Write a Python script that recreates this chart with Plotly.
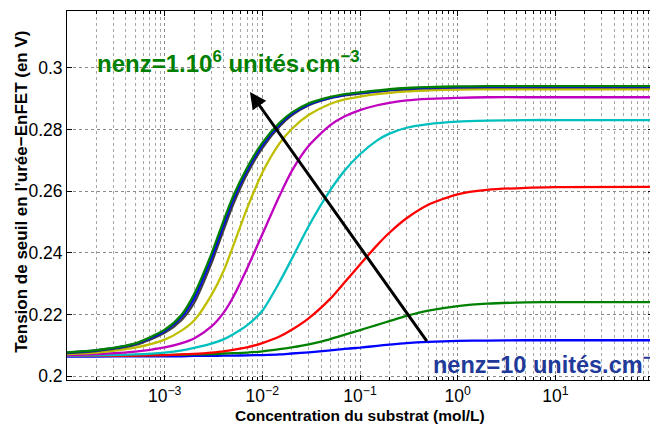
import plotly.graph_objects as go

# substrate concentration (mol/L)
conc = [1e-4, 2e-4, 5e-4, 1e-3, 1.5e-3, 2e-3, 3e-3, 4e-3, 5e-3, 7e-3, 1e-2, 1.5e-2, 2e-2,
        3e-2, 5e-2, 7e-2, 0.1, 0.15, 0.2, 0.3, 0.5, 1, 2, 5, 10, 100]

# threshold voltage (V) for increasing enzyme densities
v_b1 = [0.2063, 0.2063, 0.2064, 0.2064, 0.2064, 0.2065, 0.2065, 0.2066, 0.2066, 0.2067, 0.2068, 0.2070, 0.2073,
        0.2077, 0.2083, 0.2088, 0.2092, 0.2098, 0.2102, 0.2107, 0.2111, 0.2114, 0.2115, 0.2116, 0.2116, 0.2116]
v_g1 = [0.2066, 0.2066, 0.2067, 0.2068, 0.2069, 0.2070, 0.2071, 0.2073, 0.2074, 0.2076, 0.2080, 0.2087, 0.2093,
        0.2103, 0.2120, 0.2134, 0.2149, 0.2166, 0.2178, 0.2195, 0.2212, 0.2227, 0.2235, 0.2239, 0.2240, 0.2240]
v_r = [0.2065, 0.2065, 0.2066, 0.2068, 0.2070, 0.2072, 0.2076, 0.2080, 0.2085, 0.2093, 0.2107, 0.2128, 0.2150,
       0.2188, 0.2252, 0.2305, 0.2362, 0.2425, 0.2465, 0.2512, 0.2556, 0.2590, 0.2604, 0.2611, 0.2613, 0.2614]
v_c = [0.2066, 0.2067, 0.2070, 0.2076, 0.2083, 0.2091, 0.2105, 0.2119, 0.2135, 0.2165, 0.2212, 0.2305, 0.2380,
       0.2488, 0.2605, 0.2668, 0.2720, 0.2765, 0.2787, 0.2806, 0.2818, 0.2826, 0.2829, 0.2831, 0.2831, 0.2831]
v_m = [0.2068, 0.2071, 0.2079, 0.2093, 0.2107, 0.2122, 0.2160, 0.2205, 0.2255, 0.2350, 0.2460, 0.2585, 0.2665,
       0.2748, 0.2815, 0.2843, 0.2863, 0.2879, 0.2887, 0.2895, 0.2900, 0.2903, 0.2905, 0.2905, 0.2905, 0.2905]
v_y = [0.2071, 0.2076, 0.2092, 0.2118, 0.2148, 0.2180, 0.2262, 0.2340, 0.2420, 0.2545, 0.2660, 0.2755, 0.2802,
       0.2848, 0.2884, 0.2898, 0.2907, 0.2915, 0.2919, 0.2924, 0.2927, 0.2930, 0.2931, 0.2931, 0.2931, 0.2931]
v_k = [0.2074, 0.2081, 0.2101, 0.2140, 0.2183, 0.2237, 0.2365, 0.2473, 0.2555, 0.2657, 0.2740, 0.2810, 0.2846,
       0.2879, 0.2902, 0.2911, 0.2917, 0.2923, 0.2927, 0.2931, 0.2934, 0.2936, 0.2937, 0.2937, 0.2937, 0.2937]
v_b2 = [0.2076, 0.2083, 0.2104, 0.2146, 0.2193, 0.2252, 0.2382, 0.2490, 0.2571, 0.2669, 0.2750, 0.2817, 0.2851,
        0.2882, 0.2904, 0.2913, 0.2919, 0.2925, 0.2929, 0.2933, 0.2936, 0.2938, 0.2939, 0.2939, 0.2939, 0.2939]
v_g2 = [0.2077, 0.2084, 0.2106, 0.2150, 0.2200, 0.2265, 0.2395, 0.2503, 0.2582, 0.2677, 0.2757, 0.2822, 0.2855,
        0.2885, 0.2906, 0.2915, 0.2921, 0.2927, 0.2931, 0.2935, 0.2938, 0.2940, 0.2941, 0.2941, 0.2941, 0.2941]

series = [v_b1, v_g1, v_r, v_c, v_m, v_y, v_k, v_b2, v_g2]
colors = ["#0000FF", "#008000", "#FF0000", "#00BFBF", "#BF00BF", "#BFBF00", "#404040", "#0000FF", "#008000"]

x_tickvals = [1e-3, 1e-2, 1e-1, 1, 10]
x_ticktext = ["10<sup>−3</sup>", "10<sup>−2</sup>", "10<sup>−1</sup>", "10<sup>0</sup>", "10<sup>1</sup>"]
x_minor = [m * 10.0 ** k for k in range(-4, 2) for m in range(2, 10)]
y_tickvals = [0.2, 0.22, 0.24, 0.26, 0.28, 0.3]
y_ticktext = ["0.2", "0.22", "0.24", "0.26", "0.28", "0.3"]

fig = go.Figure()
for vals, col in zip(series, colors):
    fig.add_trace(go.Scatter(x=conc, y=vals, mode="lines",
                             line=dict(color=col, width=2.3, shape="spline", smoothing=0.7),
                             showlegend=False, hoverinfo="skip"))

# the page body has an 8px default margin: size the figure so it fills the 658x424 window
fig.update_layout(
    width=650, height=416,
    margin=dict(l=59, r=5, t=3, b=44),
    paper_bgcolor="white", plot_bgcolor="white",
    font=dict(family="Liberation Sans, Arial, sans-serif", color="black"),
)

fig.update_xaxes(
    type="log", range=[-4, 2], tickmode="array", tickvals=x_tickvals, ticktext=x_ticktext,
    ticks="inside", ticklen=5, tickcolor="black", showline=True, linecolor="black", linewidth=1,
    mirror="ticks", showgrid=True, gridcolor="#8a8a8a", griddash="dot", gridwidth=1,
    minor=dict(tickmode="array", tickvals=x_minor, ticks="inside", ticklen=3, tickcolor="black",
               showgrid=True, gridcolor="#a8a8a8", griddash="dot", gridwidth=1),
    tickfont=dict(size=17.5), zeroline=False, automargin=False,
)
fig.update_yaxes(
    range=[0.1987, 0.3185], tickmode="array", tickvals=y_tickvals, ticktext=y_ticktext,
    ticks="inside", ticklen=5, tickcolor="black", showline=True, linecolor="black", linewidth=1,
    mirror="ticks", showgrid=True, gridcolor="#8a8a8a", griddash="dot", gridwidth=1,
    tickfont=dict(size=17.5), zeroline=False, automargin=False,
)

# axis titles
fig.add_annotation(x=0.5, y=-0.095, xref="paper", yref="paper", xanchor="center", yanchor="middle",
                   text="<b>Concentration du substrat (mol/L)</b>", showarrow=False, font=dict(size=15.5))
fig.add_annotation(x=-0.0768, y=0.51, xref="paper", yref="paper", xanchor="center", yanchor="middle",
                   textangle=-90, text="<b>Tension de seuil en l’urée−EnFET (en V)</b>", showarrow=False,
                   font=dict(size=17))

# arrow from low to high enzyme density
fig.add_annotation(x=-2.127, y=0.2922, ax=-0.305, ay=0.2108, xref="x", yref="y", axref="x", ayref="y",
                   text="", showarrow=True, arrowhead=2, arrowsize=1.1, arrowwidth=3, arrowcolor="black")

fig.add_annotation(x=0.048, y=0.861, xref="paper", yref="paper", xanchor="left", yanchor="middle",
                   text="<b>nenz=1.10<sup>6</sup> unités.cm<sup>−3</sup></b>", showarrow=False,
                   font=dict(size=24, color="#008000"))
fig.add_annotation(x=0.621, y=0.046, xref="paper", yref="paper", xanchor="left", yanchor="middle",
                   text="<b>nenz=10 unités.cm<sup>−3</sup></b>", showarrow=False,
                   font=dict(size=23.5, color="#1F3A99"))

fig.write_html("out.html")
